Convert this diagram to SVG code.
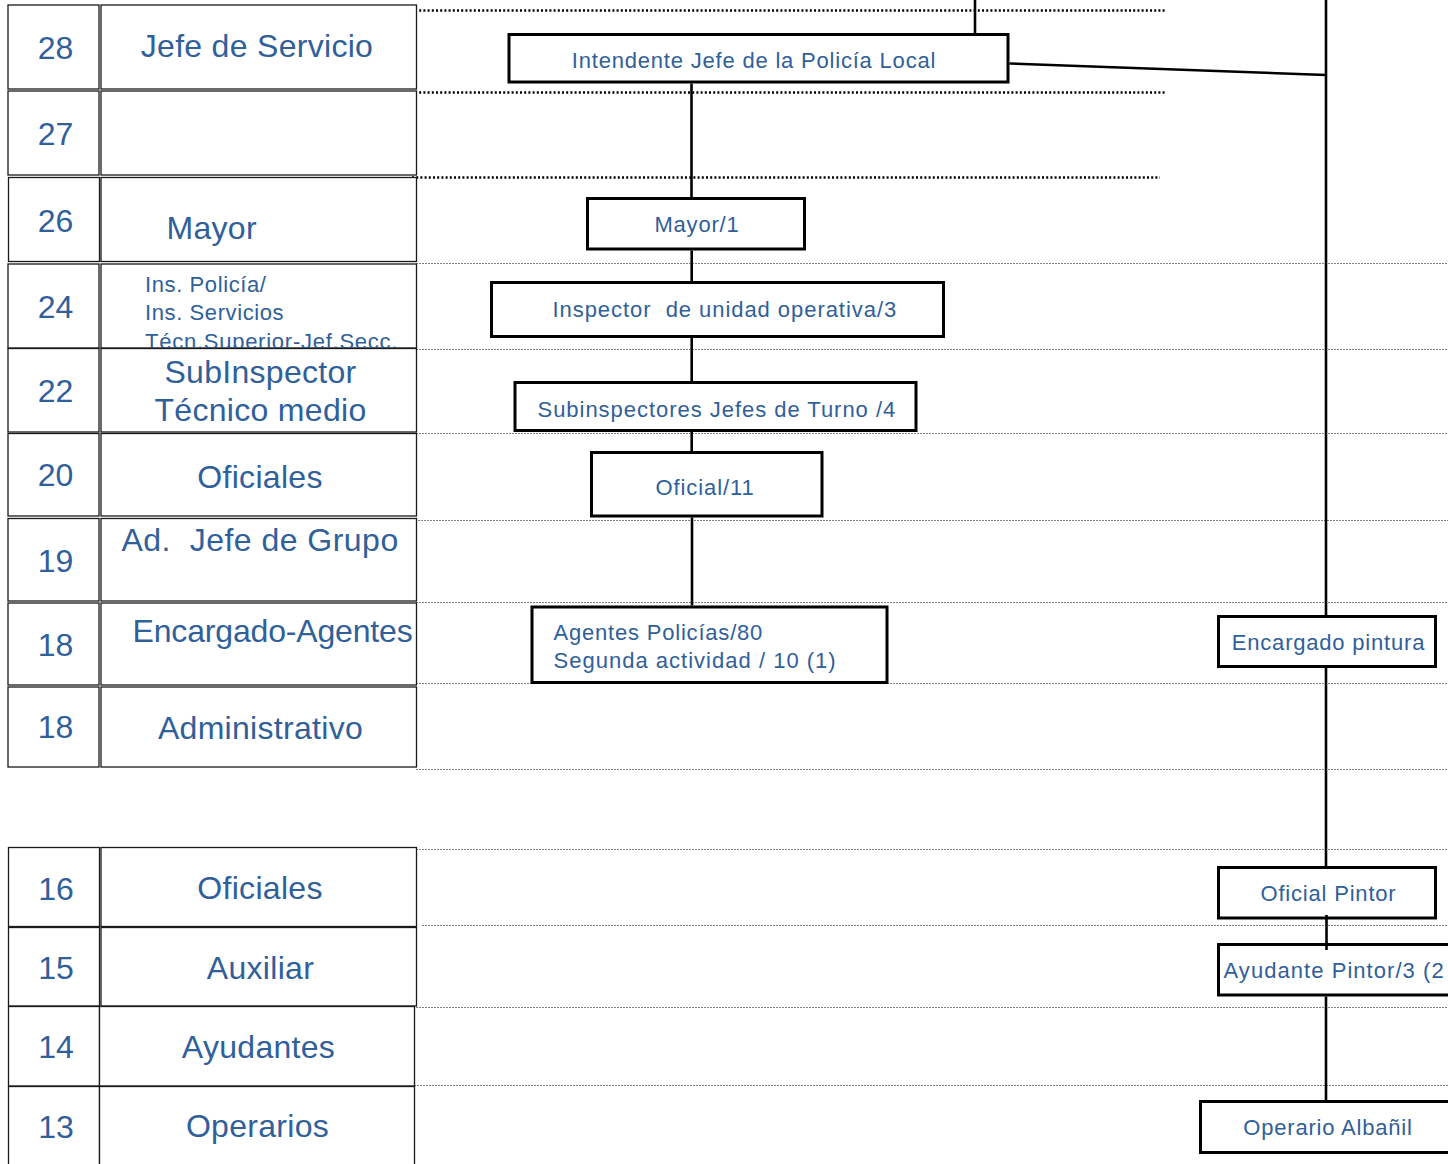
<svg xmlns="http://www.w3.org/2000/svg" width="1448" height="1164" viewBox="0 0 1448 1164">
<style>
.bg{fill:#ffffff}
.cell{fill:#ffffff;stroke:#1a1a1a;stroke-width:1.3}
.num{font-family:"Liberation Sans",Arial,sans-serif;font-size:32px;fill:#30609a;text-anchor:middle}
.lab{font-family:"Liberation Sans",Arial,sans-serif;font-size:32px;fill:#30609a;letter-spacing:0.3px;white-space:pre}
.mid{text-anchor:middle}
.small{font-family:"Liberation Sans",Arial,sans-serif;font-size:22px;fill:#30609a;letter-spacing:0.6px}
.box{fill:#ffffff;stroke:#000000;stroke-width:3}
.nt{font-family:"Liberation Sans",Arial,sans-serif;font-size:22px;fill:#30609a;letter-spacing:0.8px;white-space:pre}
.dot{stroke:#000000;stroke-width:2.6;stroke-dasharray:2 2.2;fill:none}
.dash{stroke:#808080;stroke-width:1;stroke-dasharray:2 1;fill:none}
.con{stroke:#000000;stroke-width:2.6;fill:none}
</style>
<rect class="bg" x="0" y="0" width="1448" height="1164"/>
<g id="guides">
<line class="dot" x1="415" y1="10.5" x2="1165" y2="10.5"/>
<line class="dot" x1="415" y1="92.5" x2="1165" y2="92.5"/>
<line class="dot" x1="412" y1="177.5" x2="1160" y2="177.5"/>
<line class="dash" x1="416" y1="263.5" x2="1448" y2="263.5"/>
<line class="dash" x1="416" y1="349.5" x2="1448" y2="349.5"/>
<line class="dash" x1="416" y1="433.5" x2="1448" y2="433.5"/>
<line class="dash" x1="412" y1="520.5" x2="1448" y2="520.5"/>
<line class="dash" x1="416" y1="602.5" x2="1448" y2="602.5"/>
<line class="dash" x1="416" y1="683.5" x2="1448" y2="683.5"/>
<line class="dash" x1="416" y1="769.5" x2="1448" y2="769.5"/>
<line class="dash" x1="416" y1="849.5" x2="1448" y2="849.5"/>
<line class="dash" x1="422" y1="925.5" x2="1448" y2="925.5"/>
<line class="dash" x1="416" y1="1007.5" x2="1448" y2="1007.5"/>
<line class="dash" x1="414" y1="1085.5" x2="1448" y2="1085.5"/>
</g>
<g id="row-28">
<rect class="cell" x="8" y="5" width="91" height="84"/>
<rect class="cell" x="101" y="5" width="315.5" height="84"/>
<text class="num" x="55.5" y="59">28</text>
<text class="lab mid" x="257" y="57">Jefe de Servicio</text>
</g>
<g id="row-27">
<rect class="cell" x="8" y="91" width="91" height="84"/>
<rect class="cell" x="101" y="91" width="315.5" height="84"/>
<text class="num" x="55.5" y="145">27</text>
</g>
<g id="row-26">
<rect class="cell" x="8.5" y="177.5" width="91" height="84"/>
<rect class="cell" x="101" y="177.5" width="315.5" height="84"/>
<text class="num" x="55.5" y="231.5">26</text>
<text class="lab" x="166.5" y="239">Mayor</text>
</g>
<g id="row-24">
<rect class="cell" x="8" y="264" width="91" height="84"/>
<rect class="cell" x="101" y="264" width="315.5" height="84"/>
<text class="num" x="55.5" y="318">24</text>
<text class="small" x="145" y="292">Ins. Policía/</text>
<text class="small" x="145" y="320">Ins. Servicios</text>
<text class="small" x="145" y="348.5" textLength="253" lengthAdjust="spacing">Técn.Superior-Jef.Secc.</text>
</g>
<g id="row-22">
<rect class="cell" x="8" y="348.5" width="91" height="83.5"/>
<rect class="cell" x="101" y="348.5" width="315.5" height="83.5"/>
<text class="num" x="55.5" y="401.5">22</text>
<text class="lab mid" x="260.5" y="383">SubInspector</text>
<text class="lab mid" x="260.5" y="420.5">Técnico medio</text>
</g>
<g id="row-20">
<rect class="cell" x="8" y="433.5" width="91" height="82.5"/>
<rect class="cell" x="101" y="433.5" width="315.5" height="82.5"/>
<text class="num" x="55.5" y="485.5">20</text>
<text class="lab mid" x="260" y="487.5">Oficiales</text>
</g>
<g id="row-19">
<rect class="cell" x="8" y="518.5" width="91" height="82.5"/>
<rect class="cell" x="101" y="518.5" width="315.5" height="82.5"/>
<text class="num" x="55.5" y="571.5">19</text>
<text class="lab" x="121.5" y="550.5" textLength="277" lengthAdjust="spacing">Ad.  Jefe de Grupo</text>
</g>
<g id="row-18a">
<rect class="cell" x="8" y="603" width="91" height="82"/>
<rect class="cell" x="101" y="603" width="315.5" height="82"/>
<text class="num" x="55.5" y="656">18</text>
<text class="lab" x="132.5" y="641.5" textLength="280.5" lengthAdjust="spacing">Encargado-Agentes</text>
</g>
<g id="row-18b">
<rect class="cell" x="8" y="687" width="91" height="80"/>
<rect class="cell" x="101" y="687" width="315.5" height="80"/>
<text class="num" x="55.5" y="738">18</text>
<text class="lab mid" x="260.5" y="739">Administrativo</text>
</g>
<g id="row-16">
<rect class="cell" x="8.5" y="847.5" width="91" height="79"/>
<rect class="cell" x="101" y="847.5" width="315.5" height="79"/>
<text class="num" x="56" y="899.5">16</text>
<text class="lab mid" x="260" y="899">Oficiales</text>
</g>
<g id="row-15">
<rect class="cell" x="8.5" y="927.5" width="91" height="78.5"/>
<rect class="cell" x="101" y="927.5" width="315.5" height="78.5"/>
<text class="num" x="56" y="978.5">15</text>
<text class="lab mid" x="260.5" y="978.5">Auxiliar</text>
</g>
<g id="row-14">
<rect class="cell" x="8.5" y="1006.5" width="91" height="79.5"/>
<rect class="cell" x="99.5" y="1006.5" width="315" height="79.5"/>
<text class="num" x="56" y="1058">14</text>
<text class="lab mid" x="258.5" y="1058">Ayudantes</text>
</g>
<g id="row-13">
<rect class="cell" x="8.5" y="1086.5" width="91" height="84"/>
<rect class="cell" x="99.5" y="1086.5" width="315" height="84"/>
<text class="num" x="56" y="1137.5">13</text>
<text class="lab mid" x="257.5" y="1137">Operarios</text>
</g>
<g id="node-intendente">
<rect class="box" x="509" y="34.5" width="499" height="47.5"/>
<text class="nt mid" x="754" y="68">Intendente Jefe de la Policía Local</text>
</g>
<g id="node-mayor">
<rect class="box" x="587.5" y="198.5" width="217" height="50.5"/>
<text class="nt mid" x="697" y="232">Mayor/1</text>
</g>
<g id="node-inspector">
<rect class="box" x="491.5" y="282.5" width="452" height="54"/>
<text class="nt" x="552.5" y="316.5" textLength="344.5" lengthAdjust="spacing">Inspector  de unidad operativa/3</text>
</g>
<g id="node-subinspectores">
<rect class="box" x="515" y="382.5" width="401" height="48"/>
<text class="nt" x="537.5" y="417" textLength="358.5" lengthAdjust="spacing">Subinspectores Jefes de Turno /4</text>
</g>
<g id="node-oficial">
<rect class="box" x="591.5" y="452.5" width="230.5" height="63.5"/>
<text class="nt" x="655.5" y="495" textLength="99" lengthAdjust="spacing">Oficial/11</text>
</g>
<g id="node-agentes">
<rect class="box" x="532" y="607" width="355" height="75.5"/>
<text class="nt" x="553.5" y="640">Agentes Policías/80</text>
<text class="nt" x="553.5" y="668" textLength="283" lengthAdjust="spacing">Segunda actividad / 10 (1)</text>
</g>
<g id="node-encargado-pintura">
<rect class="box" x="1218.5" y="616.5" width="217" height="50"/>
<text class="nt mid" x="1328.5" y="650">Encargado pintura</text>
</g>
<g id="node-oficial-pintor">
<rect class="box" x="1218.5" y="867.5" width="217" height="50.5"/>
<text class="nt mid" x="1328.5" y="901">Oficial Pintor</text>
</g>
<g id="node-ayudante-pintor">
<rect class="box" x="1218.5" y="944.5" width="240" height="50.5"/>
<text class="nt" x="1223.5" y="977.5" textLength="221" lengthAdjust="spacing">Ayudante Pintor/3 (2</text>
</g>
<g id="node-operario-albanil">
<rect class="box" x="1200.5" y="1101.5" width="260" height="51"/>
<text class="nt mid" x="1328" y="1135">Operario Albañil</text>
</g>
<g id="connectors">
<line class="con" x1="975" y1="0" x2="975" y2="33"/>
<line class="con" x1="691.5" y1="83.5" x2="691.5" y2="197"/>
<line class="con" x1="691.7" y1="250.5" x2="691.7" y2="281"/>
<line class="con" x1="691.7" y1="338" x2="691.7" y2="381"/>
<line class="con" x1="691.7" y1="432" x2="691.7" y2="451"/>
<line class="con" x1="692" y1="517.5" x2="692" y2="605.5"/>
<line class="con" x1="1326" y1="0" x2="1326" y2="615"/>
<line class="con" x1="1009.5" y1="63.5" x2="1326" y2="75"/>
<line class="con" x1="1326" y1="668" x2="1326" y2="866"/>
<line class="con" x1="1326.5" y1="915" x2="1326.5" y2="950"/>
<line class="con" x1="1326" y1="996.5" x2="1326" y2="1100"/>
</g>
</svg>
